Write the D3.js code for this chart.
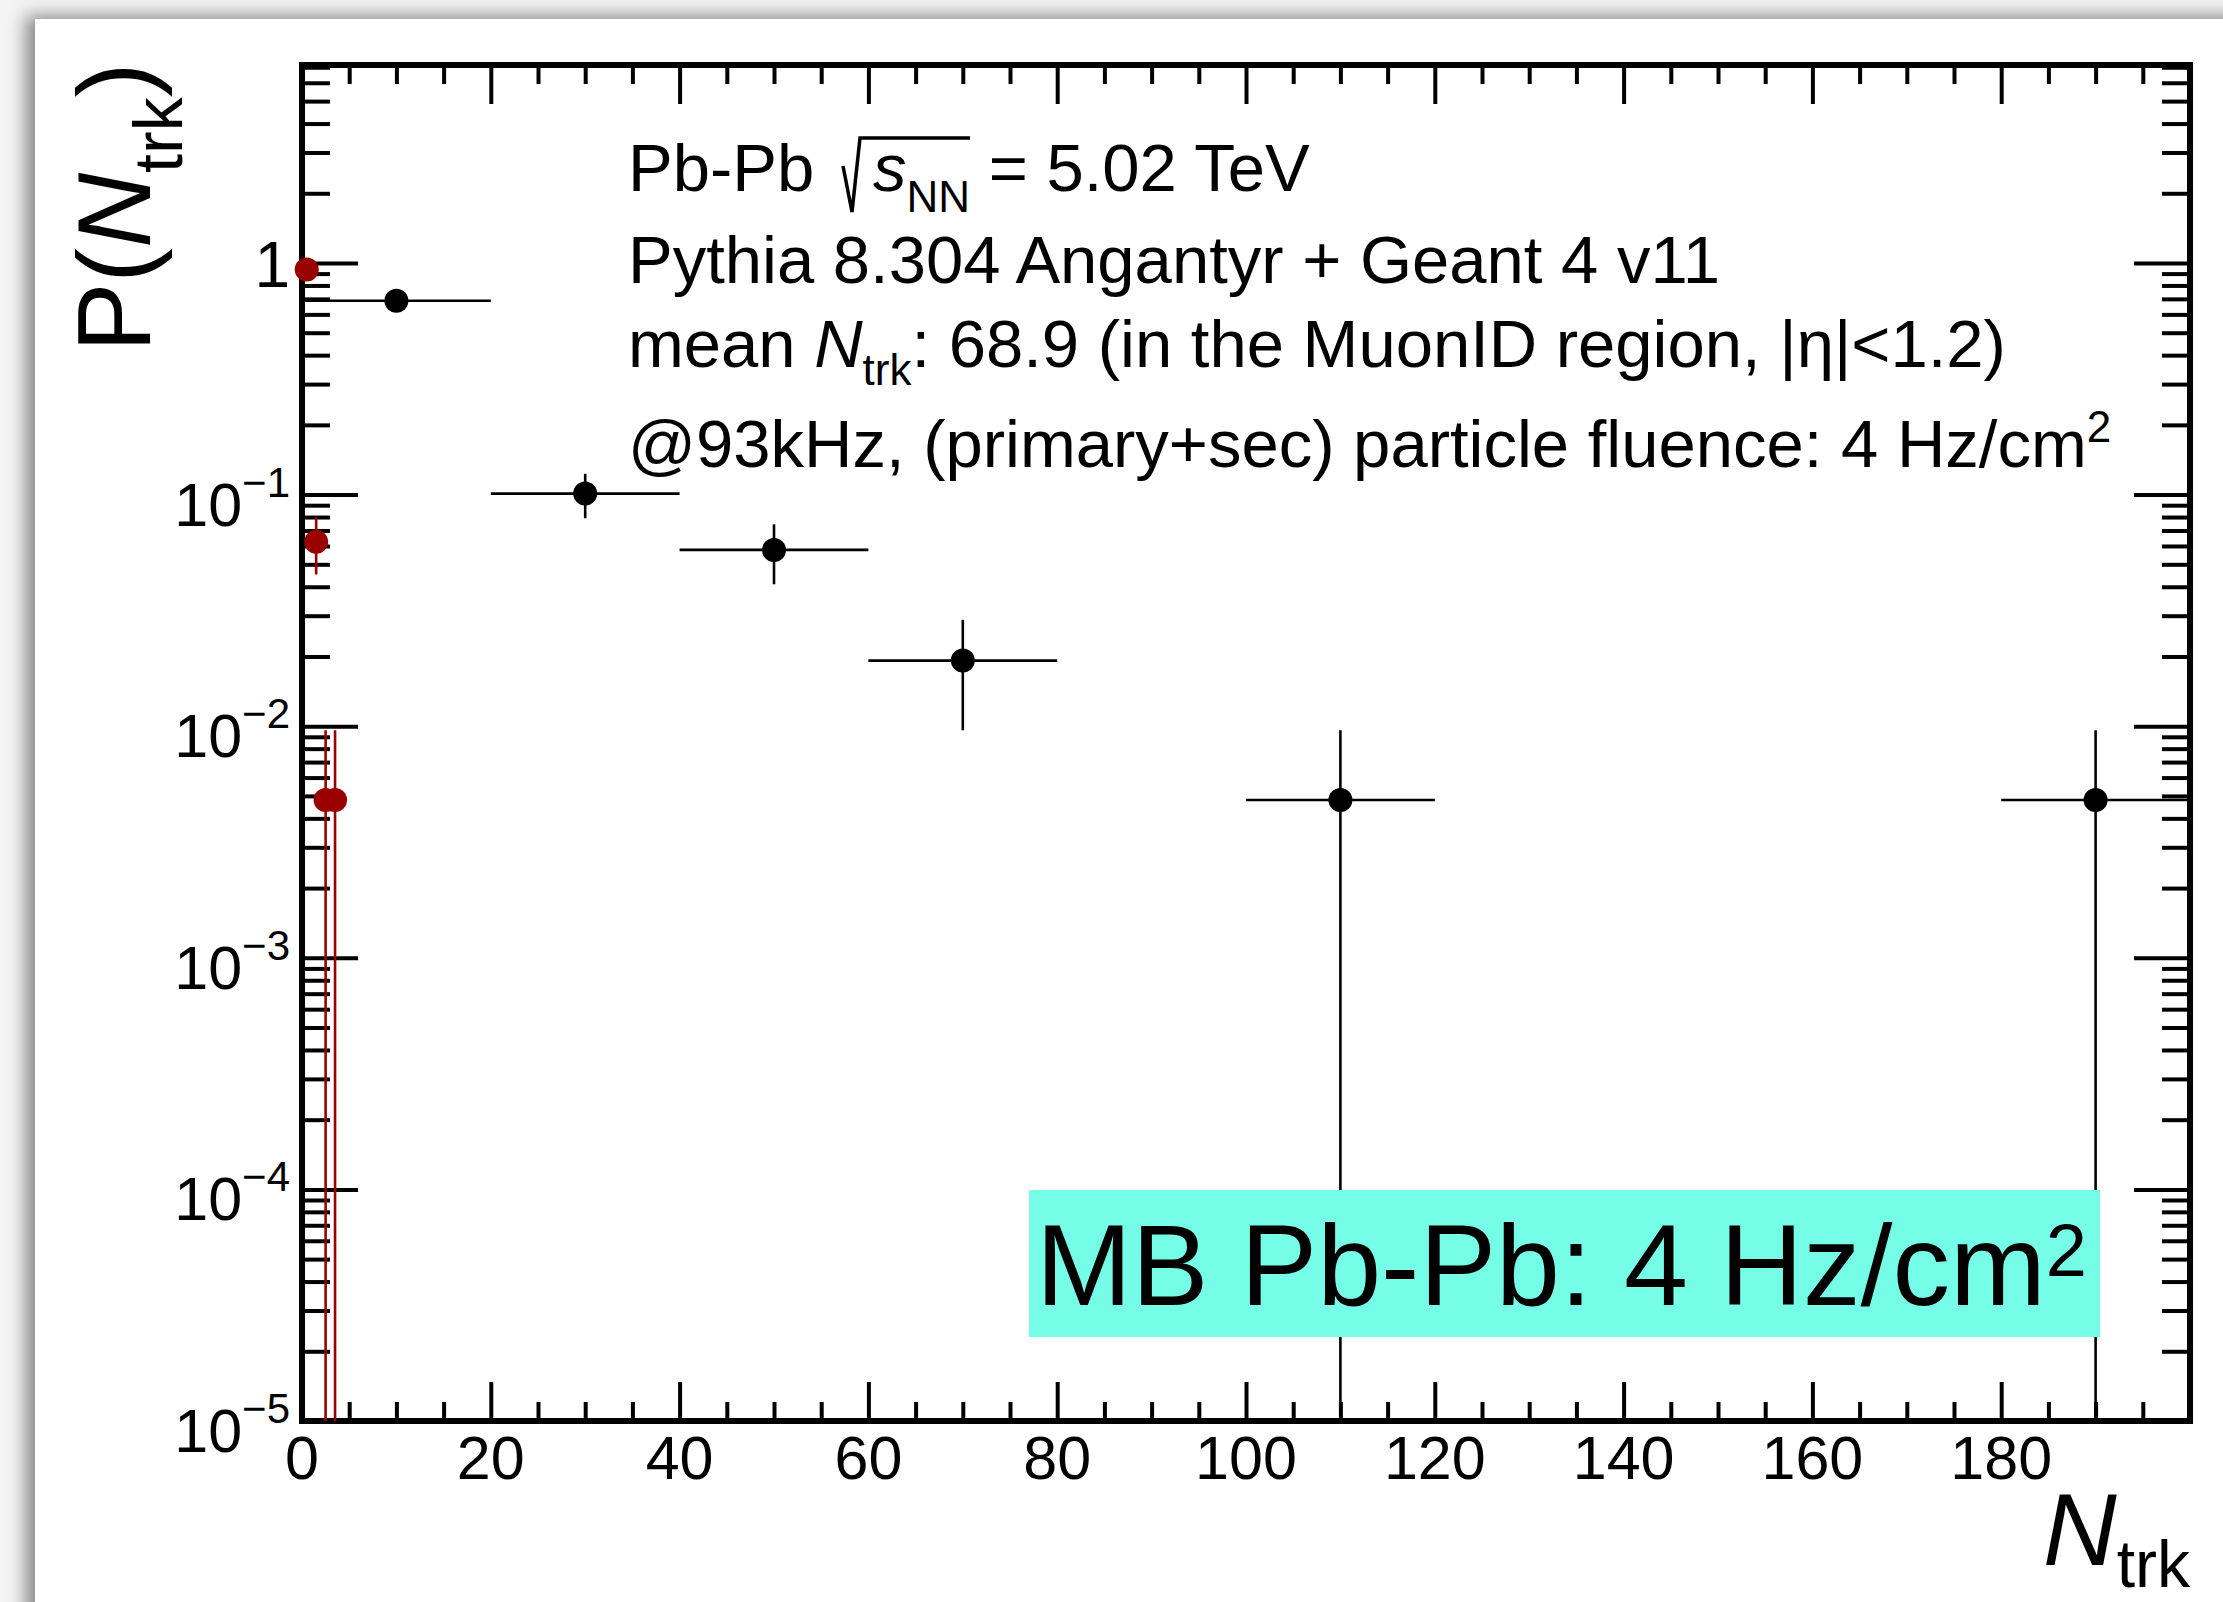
<!DOCTYPE html>
<html><head><meta charset="utf-8">
<script src="https://cdn.jsdelivr.net/npm/d3@7"></script>
<style>
body{margin:0;background:#f4f4f4;}
svg{display:block;font-family:"Liberation Sans",Arial,Helvetica,sans-serif;}
</style>
</head><body><svg id="c" width="2223" height="1602"></svg>
<script>
// ---------------- data ----------------
const binCenters   = [10, 30, 50, 70, 110, 190];
const binHalfWidth = [10, 10, 10, 10, 10, 10];
const probAll      = [0.6875, 0.101, 0.0577, 0.0192, 0.0048, 0.0048];
const errAll       = [0.0575, 0.022, 0.0167, 0.0096, 0.0048, 0.0048];

const redCenters   = [0.5, 1.5, 2.5, 3.5];
const redHalfWidth = [0.5, 0.5, 0.5, 0.5];
const probRed      = [0.9375, 0.0625, 0.0048, 0.0048];
const errRed       = [0.067, 0.0173, 0.0048, 0.0048];

const xMajorTicks  = [0, 20, 40, 60, 80, 100, 120, 140, 160, 180];
const xTickLabels  = ["0","20","40","60","80","100","120","140","160","180"];
const yMajorTicks  = [1, 1e-1, 1e-2, 1e-3, 1e-4, 1e-5];
const yTickBase    = ["1","10","10","10","10","10"];
const yTickExp     = ["","\u22121","\u22122","\u22123","\u22124","\u22125"];

const xDomain = [0, 200];
const yDomain = [1e-5, 7.16];

// ---------------- layout ----------------
const W = 2223, H = 1602;
const L = 302, R = 2190, T = 65, B = 1421;
const svg = d3.select("#c");

// page background + card with shadow
const defs = svg.append("defs");
const flt = defs.append("filter").attr("id","sh")
  .attr("x","-5%").attr("y","-5%").attr("width","110%").attr("height","110%");
flt.append("feDropShadow").attr("dx",-9).attr("dy",-3).attr("stdDeviation",9)
  .attr("flood-color","#000").attr("flood-opacity",0.45);
svg.append("rect").attr("width",W).attr("height",H).attr("fill","#f3f3f3");
svg.append("rect").attr("x",35).attr("y",19).attr("width",2400).attr("height",1800)
  .attr("fill","#fff").attr("filter","url(#sh)");

const x = d3.scaleLinear().domain(xDomain).range([L, R]);
const y = d3.scaleLog().domain(yDomain).range([B, T]);

// tick values
const xMinor = d3.range(xDomain[0], xDomain[1] + 0.001, 5).filter(v => v % 20 !== 0);
const yMinor = [];
yMajorTicks.forEach(d => { for (let k = 2; k <= 9; k++) { const v = k * d; if (v <= yDomain[1]) yMinor.push(v); } });

function style(sel){
  sel.select(".domain").remove();
  sel.selectAll("line").attr("stroke","#000").attr("stroke-width",4);
  sel.selectAll("text").remove();
}
const axes = svg.append("g");
axes.append("g").attr("transform",`translate(0,${B})`)
  .call(d3.axisTop(x).tickValues(xMajorTicks).tickSize(39).tickFormat("")).call(style);
axes.append("g").attr("transform",`translate(0,${B})`)
  .call(d3.axisTop(x).tickValues(xMinor).tickSize(19).tickFormat("")).call(style);
axes.append("g").attr("transform",`translate(0,${T})`)
  .call(d3.axisBottom(x).tickValues(xMajorTicks).tickSize(39).tickFormat("")).call(style);
axes.append("g").attr("transform",`translate(0,${T})`)
  .call(d3.axisBottom(x).tickValues(xMinor).tickSize(19).tickFormat("")).call(style);
axes.append("g").attr("transform",`translate(${L},0)`)
  .call(d3.axisRight(y).tickValues(yMajorTicks).tickSize(56).tickFormat("")).call(style);
axes.append("g").attr("transform",`translate(${L},0)`)
  .call(d3.axisRight(y).tickValues(yMinor).tickSize(28).tickFormat("")).call(style);
axes.append("g").attr("transform",`translate(${R},0)`)
  .call(d3.axisLeft(y).tickValues(yMajorTicks).tickSize(56).tickFormat("")).call(style);
axes.append("g").attr("transform",`translate(${R},0)`)
  .call(d3.axisLeft(y).tickValues(yMinor).tickSize(28).tickFormat("")).call(style);

// frame
svg.append("rect").attr("x",L).attr("y",T).attr("width",R-L).attr("height",B-T)
  .attr("fill","none").attr("stroke","#000").attr("stroke-width",6);

// tick labels
const labels = svg.append("g").attr("fill","#000");
xMajorTicks.forEach((v,i) => {
  labels.append("text").attr("x",x(v)).attr("y",B+58).attr("text-anchor","middle")
    .attr("font-size",61).text(xTickLabels[i]);
});
yMajorTicks.forEach((v,i) => {
  if (yTickExp[i] === "") {
    labels.append("text").attr("x",290).attr("y",y(v)+24).attr("text-anchor","end")
      .attr("font-size",64).text(yTickBase[i]);
  } else {
    const t = labels.append("text").attr("x",290).attr("y",y(v)+31).attr("text-anchor","end")
      .attr("font-size",61);
    t.append("tspan").text(yTickBase[i]);
    t.append("tspan").attr("font-size",42).attr("dy",-29).text(yTickExp[i]);
  }
});

// axis titles
const yt = svg.append("text").attr("transform","translate(150,352) rotate(-90)").attr("font-size",104);
yt.append("tspan").text("P(");
yt.append("tspan").attr("font-style","italic").text("N");
yt.append("tspan").attr("font-size",68).attr("dy",32).text("trk");
yt.append("tspan").attr("dy",-32).text(")");

const xt = svg.append("text").attr("x",2190).attr("y",1565).attr("text-anchor","end").attr("font-size",102);
xt.append("tspan").attr("font-style","italic").text("N");
xt.append("tspan").attr("font-size",66).attr("dy",22).text("trk");

// data: error bars then markers
function drawSeries(cx, hw, val, err, color){
  const g = svg.append("g");
  cx.forEach((c,i) => {
    const lo = Math.max(val[i] - err[i], yDomain[0]);
    const hi = val[i] + err[i];
    g.append("line").attr("x1",x(c - hw[i])).attr("x2",x(c + hw[i]))
      .attr("y1",y(val[i])).attr("y2",y(val[i])).attr("stroke",color).attr("stroke-width",2.6);
    g.append("line").attr("x1",x(c)).attr("x2",x(c))
      .attr("y1",y(lo)).attr("y2",y(hi)).attr("stroke",color).attr("stroke-width",2.6);
  });
  cx.forEach((c,i) => {
    g.append("circle").attr("cx",x(c)).attr("cy",y(val[i])).attr("r",12).attr("fill",color);
  });
}
drawSeries(binCenters, binHalfWidth, probAll, errAll, "#000");
drawSeries(redCenters, redHalfWidth, probRed, errRed, "#990000");

// annotation text
const ann = svg.append("g").attr("font-size",67).attr("fill","#000");
const t1 = ann.append("text").attr("x",628).attr("y",191);
t1.append("tspan").text("Pb-Pb");
t1.append("tspan").attr("x",873).attr("font-style","italic").text("s");
t1.append("tspan").attr("font-size",44).attr("dy",21).text("NN");
t1.append("tspan").attr("dy",-21).text(" = 5.02 TeV");
ann.append("path").attr("d","M843,166 L852,212 L860,138 L970,138")
  .attr("fill","none").attr("stroke","#000").attr("stroke-width",3.5).attr("stroke-linejoin","miter");

ann.append("text").attr("x",628).attr("y",283).text("Pythia 8.304 Angantyr + Geant 4 v11");

const t3 = ann.append("text").attr("x",628).attr("y",367);
t3.append("tspan").text("mean ");
t3.append("tspan").attr("font-style","italic").text("N");
t3.append("tspan").attr("font-size",44).attr("dy",18).text("trk");
t3.append("tspan").attr("dy",-18).text(": 68.9 (in the MuonID region, |\u03B7|<1.2)");

const t4 = ann.append("text").attr("x",628).attr("y",467);
t4.append("tspan").text("@93kHz, (primary+sec) particle fluence: 4 Hz/cm");
t4.append("tspan").attr("font-size",44).attr("dy",-25).text("2");

// highlighted label box
svg.append("rect").attr("x",1029).attr("y",1190).attr("width",1071).attr("height",147).attr("fill","#76fde8");
const mb = svg.append("text").attr("x",1036).attr("y",1305).attr("font-size",115).attr("fill","#000");
mb.append("tspan").text("MB Pb-Pb: 4 Hz/cm");
mb.append("tspan").attr("font-size",74).attr("dy",-29).text("2");
</script>
</body></html>
